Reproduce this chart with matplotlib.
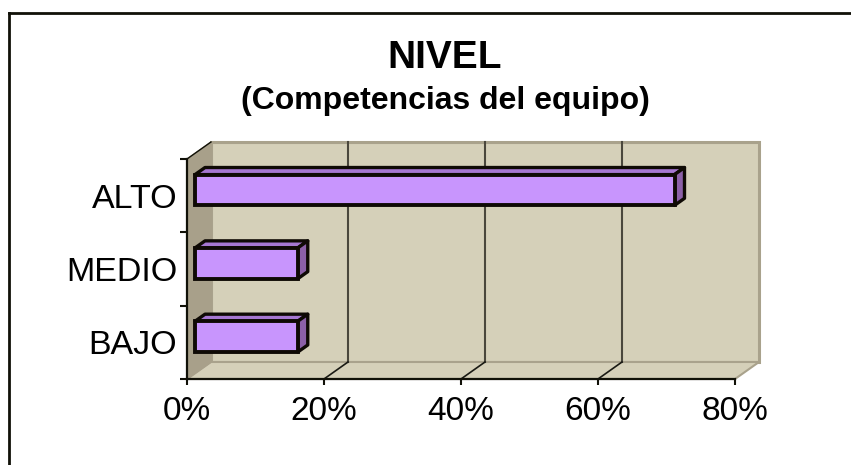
import matplotlib
matplotlib.use("Agg")
import matplotlib.pyplot as plt
from matplotlib.patches import Polygon
from matplotlib.lines import Line2D

# ---- data ----
categories = ["BAJO", "MEDIO", "ALTO"]
values = [0.15, 0.15, 0.70]
xticks = [0.0, 0.2, 0.4, 0.6, 0.8]
xticklabels = ["0%", "20%", "40%", "60%", "80%"]
title = "NIVEL"
subtitle = "(Competencias del equipo)"

plt.rcParams['font.family'] = ['Liberation Sans', 'DejaVu Sans']

W, H = 851, 465
fig = plt.figure(figsize=(W / 100, H / 100), dpi=100)

# frame (only top and left visible)
fig.add_artist(Line2D([8.7 / W, 8.7 / W], [0, 1 - 13 / H], transform=fig.transFigure,
                      color="#111108", lw=2.0, solid_capstyle="projecting"))
fig.add_artist(Line2D([8.7 / W, 1], [1 - 13 / H, 1 - 13 / H], transform=fig.transFigure,
                      color="#111108", lw=2.0, solid_capstyle="projecting"))

# front plane of plot area
L, R, T, B = 187, 735, 159, 379
ax = fig.add_axes([L / W, 1 - B / H, (R - L) / W, (B - T) / H])
xmin, xmax = 0.0, 0.8
ymin, ymax = -0.5, len(categories) - 0.5
ax.set_xlim(xmin, xmax)
ax.set_ylim(ymin, ymax)
ax.set_facecolor("none")

# depth offsets (pixels -> data units)
px_x = (xmax - xmin) / (R - L)
px_y = (ymax - ymin) / (B - T)
ddx = 24 * px_x
ddy = 17 * px_y

wall = "#d5d0b9"
wall_edge = "#a9a28c"
side = "#a8a08a"

# back wall
ax.add_patch(Polygon([(xmin + ddx, ymin + ddy), (xmax + ddx, ymin + ddy),
                      (xmax + ddx, ymax + ddy), (xmin + ddx, ymax + ddy)],
                     closed=True, facecolor=wall, edgecolor=wall_edge, lw=2.2,
                     clip_on=False, zorder=0))
# floor
ax.add_patch(Polygon([(xmin, ymin), (xmax, ymin), (xmax + ddx, ymin + ddy), (xmin + ddx, ymin + ddy)],
                     closed=True, facecolor=wall, edgecolor=wall_edge, lw=1.5,
                     clip_on=False, zorder=0.2))
# side wall
ax.add_patch(Polygon([(xmin, ymin), (xmin + ddx, ymin + ddy), (xmin + ddx, ymax + ddy), (xmin, ymax)],
                     closed=True, facecolor=side, edgecolor=side, lw=1.0,
                     clip_on=False, zorder=0.3))
# top diagonal of side wall
ax.plot([xmin, xmin + ddx], [ymax, ymax + ddy], color="#111108", lw=1.0, clip_on=False, zorder=0.4)

# gridlines on back wall and floor
for xv in xticks[1:-1]:
    ax.plot([xv + ddx, xv + ddx], [ymin + ddy, ymax + ddy], color="#4a473c", lw=1.5,
            clip_on=False, zorder=0.5)
    ax.plot([xv, xv + ddx], [ymin, ymin + ddy], color="#1a1a14", lw=1.2,
            clip_on=False, zorder=0.5)

# bars (3D)
fgap = 8 / 24
bdep = 10 / 24
h = 0.42
front = "#c895fd"
topc = "#a677d2"
sidec = "#8c60a8"
ypos = list(range(len(categories)))
x0 = xmin + fgap * ddx
ys = [y + fgap * ddy for y in ypos]
for yc, v in zip(ys, values):
    top_y = yc + h / 2
    bot_y = yc - h / 2
    ax.add_patch(Polygon([(x0, top_y), (x0 + v, top_y), (x0 + v + bdep * ddx, top_y + bdep * ddy),
                          (x0 + bdep * ddx, top_y + bdep * ddy)], closed=True,
                         facecolor=topc, edgecolor="#0f0a05", lw=2.4, joinstyle="round",
                         clip_on=False, zorder=2))
    ax.add_patch(Polygon([(x0 + v, bot_y), (x0 + v + bdep * ddx, bot_y + bdep * ddy),
                          (x0 + v + bdep * ddx, top_y + bdep * ddy), (x0 + v, top_y)], closed=True,
                         facecolor=sidec, edgecolor="#0f0a05", lw=2.4, joinstyle="round",
                         clip_on=False, zorder=2))
ax.barh(ys, values, left=x0, height=h, color=front, edgecolor="#0f0a05", lw=2.8,
        zorder=3, clip_on=False)

# axes spines / ticks
for s in ["top", "right"]:
    ax.spines[s].set_visible(False)
for s in ["left", "bottom"]:
    ax.spines[s].set_color("#111108")
    ax.spines[s].set_linewidth(1.6)
    ax.spines[s].set_zorder(4)

ax.set_xticks(xticks)
ax.set_xticklabels(xticklabels, fontsize=24)
ax.tick_params(axis="x", direction="out", length=4, width=1.5, color="#111108", pad=8)

ax.set_yticks([y - 0.5 for y in ypos] + [ymax])
ax.set_yticklabels([])
ax.tick_params(axis="y", which="major", direction="out", length=5, width=1.5, color="#111108")
ax.set_yticks(ypos, minor=True)
ax.set_yticklabels(categories, minor=True, fontsize=24.5)
ax.tick_params(axis="y", which="minor", length=0, pad=7)

# titles
fig.text(445 / W, 1 - 58 / H, title, ha="center", va="center", fontsize=28, fontweight="bold")
fig.text(445 / W, 1 - 101 / H, subtitle, ha="center", va="center", fontsize=23, fontweight="bold")

fig.savefig("out.png", dpi=100)
